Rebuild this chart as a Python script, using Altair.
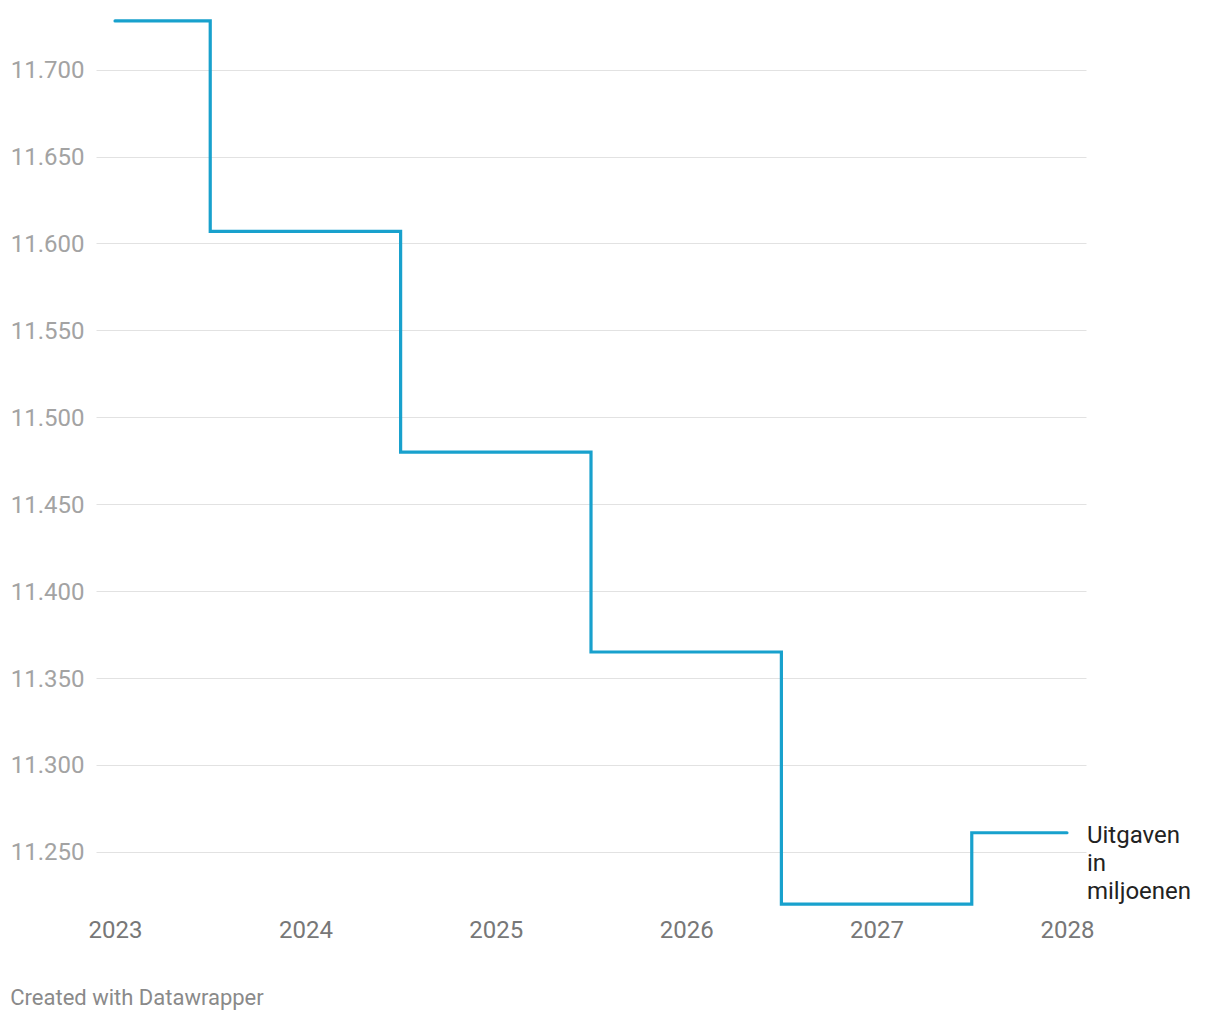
import altair as alt
import pandas as pd

years = [2023, 2024, 2025, 2026, 2027, 2028]
values = [11728, 11607, 11480, 11365, 11220, 11261]
series_label = "Uitgaven\nin\nmiljoenen"
y_ticks = [11250, 11300, 11350, 11400, 11450, 11500, 11550, 11600, 11650, 11700]
x_ticks = [2023, 2024, 2025, 2026, 2027, 2028]

df = pd.DataFrame({"jaar": years, "waarde": values})
lab = pd.DataFrame({"jaar": [years[-1]], "waarde": [values[-1]], "t": [series_label]})

FONT = "Roboto"
BLUE = "#18a1cd"

x = alt.X("jaar:Q", scale=alt.Scale(domain=[2022.9, 2028.1], nice=False, zero=False),
          axis=alt.Axis(values=x_ticks, format="d", grid=False, domain=False, ticks=False,
                        labelFont=FONT, labelFontSize=24, labelColor="#777777",
                        labelPadding=7, title=None, labelFlush=False))
y = alt.Y("waarde:Q", scale=alt.Scale(domain=[11216, 11732], nice=False, zero=False),
          axis=alt.Axis(values=y_ticks, labelExpr="replace(format(datum.value, ','), ',', '.')",
                        grid=True, gridColor="#e2e2e2", gridWidth=1, domain=False, ticks=False,
                        labelFont=FONT, labelFontSize=24, labelColor="#a3a3a3",
                        labelPadding=12, labelOffset=1, title=None))

line = alt.Chart(df).mark_line(interpolate="step", color=BLUE, strokeWidth=3.2,
                               strokeCap="round", strokeJoin="miter").encode(x=x, y=y)

text = alt.Chart(lab).mark_text(align="left", baseline="top", dx=20, dy=-9,
                                lineBreak="\n", lineHeight=28, font=FONT, fontSize=24,
                                color="#222222").encode(x="jaar:Q", y="waarde:Q", text="t:N")

chart = alt.layer(line, text).properties(
    width=990, height=897,
    background="white",
    padding={"left": 2, "top": 6, "right": 5, "bottom": 5},
    title=alt.TitleParams("Created with Datawrapper", orient="bottom", anchor="start",
                          font=FONT, fontSize=22, fontWeight="normal", color="#8a8a8a",
                          offset=46),
).configure_view(stroke=None, strokeWidth=0)

chart.save("out.html", embed_options={"renderer": "svg", "actions": False})
